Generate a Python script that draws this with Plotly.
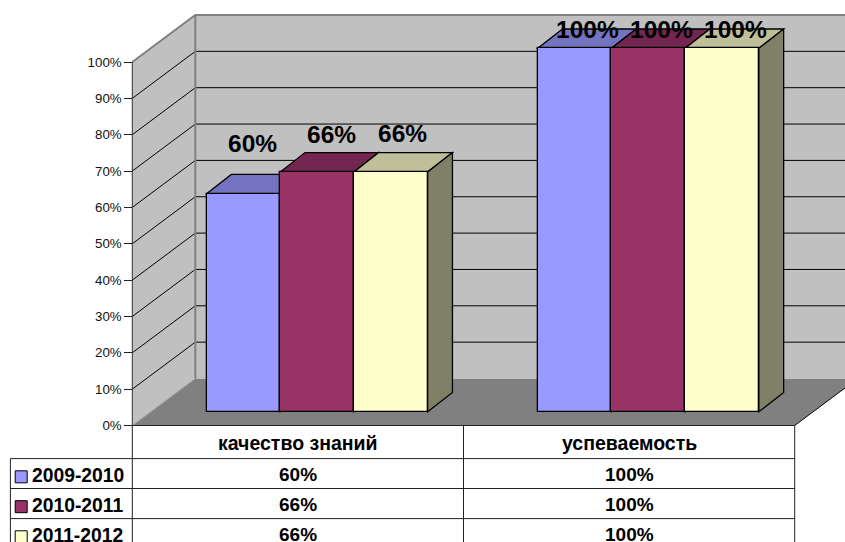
import plotly.graph_objects as go

# ---- data ----
categories = ["качество знаний", "успеваемость"]
series_names = ["2009-2010", "2010-2011", "2011-2012"]
values_2009 = [60, 100]
values_2010 = [66, 100]
values_2011 = [66, 100]
tick_values = [0, 10, 20, 30, 40, 50, 60, 70, 80, 90, 100]
tick_labels = ["0%", "10%", "20%", "30%", "40%", "50%", "60%", "70%", "80%", "90%", "100%"]

# ---- style / layout ----
W, H = 845, 542
FONT = "Liberation Sans"
front_colors = ["#9999FF", "#993366", "#FFFFCC"]
top_colors = ["#7373BF", "#732650", "#BFBF99"]
side_colors = ["#4D4D80", "#4D1A33", "#808066"]
WALL, FLOOR, EDGE = "#C0C0C0", "#808080", "#808080"

X0 = 132.3           # plane of the value axis
Y0_PX, UNIT = 425.5, 3.635   # pixel of 0 %, pixels per 1 %
WALL_DX, WALL_DV = 63.0, 47.0 / UNIT
BAR_BASE = 13.7 / UNIT       # bars stand in front of the back wall
BAR_W = 73.7
BAR_DX, BAR_DV = 24.8, 19.3 / UNIT
COL_EDGES = [132.3, 463.5, 794.7]
BAR_SHIFT = 19.2
label_shifts = [[(9, 50), (14, 37), (12, 38)], [(13, 19), (13.5, 19), (13, 19)]]


def v(px):
    """page pixel row -> value axis"""
    return (Y0_PX - px) / UNIT


series = [values_2009, values_2010, values_2011]
centers = [(COL_EDGES[i] + COL_EDGES[i + 1]) / 2 for i in range(len(categories))]
X1 = COL_EDGES[-1]
shapes = []


def poly(pts, fill=None, color="black", width=1.0):
    path = "M " + " L ".join(f"{x},{y}" for x, y in pts)
    if fill:
        path += " Z"
    shapes.append(dict(type="path", xref="x", yref="y", path=path, layer="below",
                       fillcolor=fill or "rgba(0,0,0,0)",
                       line=dict(color=color, width=width)))


top = tick_values[-1]
# walls and floor
poly([(X0, 0), (X0 + WALL_DX, WALL_DV), (X1 + WALL_DX, WALL_DV), (X1, 0)], FLOOR, FLOOR, 0)
poly([(X0 + WALL_DX, WALL_DV), (X0 + WALL_DX, top + WALL_DV),
      (X1 + WALL_DX, top + WALL_DV), (X1 + WALL_DX, WALL_DV)], WALL, WALL, 0)
poly([(X0, 0), (X0, top), (X0 + WALL_DX, top + WALL_DV), (X0 + WALL_DX, WALL_DV)], WALL, WALL, 0)
for t in tick_values[1:-1]:
    poly([(X0, t), (X0 + WALL_DX, t + WALL_DV), (X1 + WALL_DX, t + WALL_DV)], None, "black", 1)
# wall edges
poly([(X0, top), (X0 + WALL_DX, top + WALL_DV), (X1 + WALL_DX, top + WALL_DV)], None, EDGE, 2)
poly([(X0 + WALL_DX, WALL_DV), (X0 + WALL_DX, top + WALL_DV)], None, EDGE, 2)
poly([(X0, 0), (X0 + WALL_DX, WALL_DV)], None, "#A0A0A0", 1)
poly([(X0, 0), (X0, top)], None, "#333333", 1)
poly([(X1, 0), (X1 + WALL_DX, WALL_DV)], None, "black", 1)

# depth faces of the bars, below the front faces
for c, cx in enumerate(centers):
    for s, vals in enumerate(series):
        left = cx + BAR_SHIFT + (s - 1) * BAR_W - BAR_W / 2
        right = left + BAR_W
        y1 = vals[c] + BAR_BASE
        poly([(left, y1), (left + BAR_DX, y1 + BAR_DV), (right + BAR_DX, y1 + BAR_DV), (right, y1)],
             top_colors[s], "black", 1.3)
        poly([(right, BAR_BASE), (right + BAR_DX, BAR_BASE + BAR_DV),
              (right + BAR_DX, y1 + BAR_DV), (right, y1)], side_colors[s], "black", 1.3)

fig = go.Figure()
for s, vals in enumerate(series):
    fig.add_trace(go.Bar(
        x=[cx + BAR_SHIFT + (s - 1) * BAR_W for cx in centers],
        y=vals, base=BAR_BASE, width=BAR_W, name=series_names[s],
        marker=dict(color=front_colors[s], line=dict(color="black", width=1.3)),
        hoverinfo="skip", showlegend=False))

annotations = []


def text(x, px, s, size, anchor="center", yshift=0, y=None):
    annotations.append(dict(x=x, y=v(px) if y is None else y, xref="x", yref="y", text=s,
                            showarrow=False, xanchor=anchor, yanchor="middle", yshift=yshift,
                            font=dict(family=FONT, size=size, color="black"),
                            borderpad=0, borderwidth=0))


# data labels
for c, cx in enumerate(centers):
    for s, vals in enumerate(series):
        dx, up = label_shifts[c][s]
        text(cx + BAR_SHIFT + (s - 1) * BAR_W + dx, None, f"<b>{vals[c]}%</b>", 24.5,
             y=vals[c] + BAR_BASE, yshift=up)

# data table
ROWS = [425.5, 458.6, 488.5, 518.6]
TABLE_LEFT = 10.4


def rule(x0, p0, x1, p1, color="#222222"):
    shapes.append(dict(type="line", xref="x", yref="y", x0=x0, y0=v(p0), x1=x1, y1=v(p1),
                       layer="above", line=dict(color=color, width=1)))


rule(X0, ROWS[0], X1, ROWS[0])
rule(TABLE_LEFT, ROWS[1], X1, ROWS[1])
rule(TABLE_LEFT, ROWS[2], X1, ROWS[2])
rule(TABLE_LEFT, ROWS[3], X1, ROWS[3])
rule(TABLE_LEFT, ROWS[1], TABLE_LEFT, H)
for ex in COL_EDGES:
    rule(ex, ROWS[0], ex, H)

for c, cx in enumerate(centers):
    text(cx, 443.3, f"<b>{categories[c]}</b>", 19.5)
    for s, vals in enumerate(series):
        text(cx, ROWS[s + 1] + 16.2, f"<b>{vals[c]}%</b>", 19)

KEY = 12.0
for s, name in enumerate(series_names):
    cy = ROWS[s + 1] + 18.2
    shapes.append(dict(type="rect", xref="x", yref="y", x0=15.2, x1=15.2 + KEY,
                       y0=v(cy + KEY / 2), y1=v(cy - KEY / 2), layer="above",
                       fillcolor=front_colors[s], line=dict(color="black", width=1)))
    text(32.2, ROWS[s + 1] + 16.8, f"<b>{name}</b>", 19.3, anchor="left")

fig.update_layout(
    width=W, height=H, margin=dict(l=0, r=0, t=0, b=0, pad=0),
    paper_bgcolor="white", plot_bgcolor="white",
    barmode="overlay", bargap=0, showlegend=False,
    shapes=shapes, annotations=annotations,
    font=dict(family=FONT, color="black"),
    xaxis=dict(range=[0, W], visible=False, fixedrange=True),
    yaxis=dict(range=[v(H), v(0)], anchor="free", position=X0 / W, side="left",
               tickmode="array", tickvals=tick_values, ticktext=tick_labels,
               ticks="outside", ticklen=8, tickwidth=1, tickcolor="#222222",
               tickfont=dict(family=FONT, size=13.3, color="#111111"),
               showgrid=False, zeroline=False, showline=False, fixedrange=True),
)

fig.write_html("out.html", config=dict(displayModeBar=False),
               post_script="document.body.style.margin='0';document.body.style.overflow='hidden';")
